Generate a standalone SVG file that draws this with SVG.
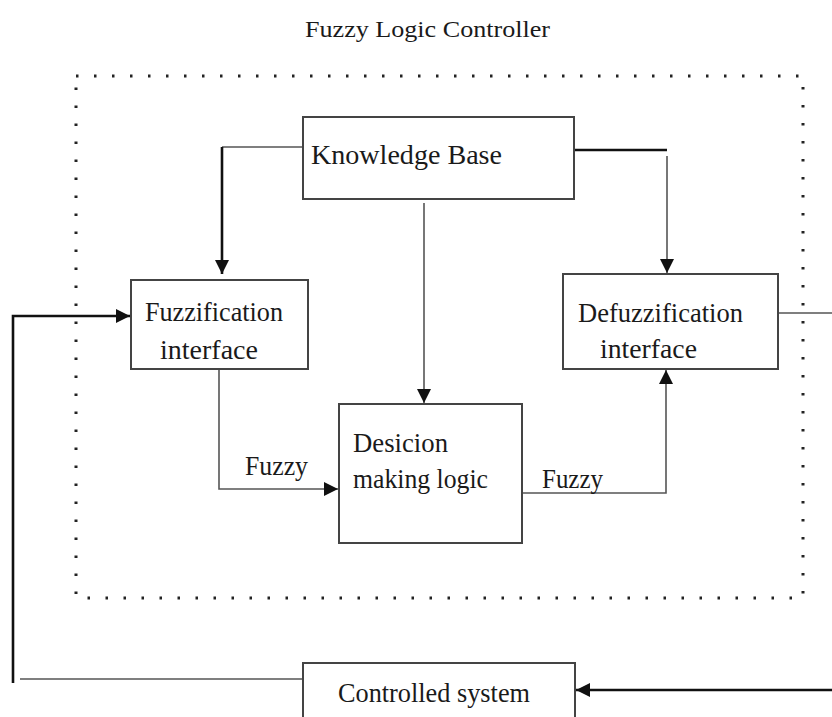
<svg xmlns="http://www.w3.org/2000/svg" width="832" height="717" viewBox="0 0 832 717">
<defs>
<style>
.t{font-family:"Liberation Serif","Times New Roman",serif;fill:#1a1a1a;font-size:28px;}
.box{fill:#fff;stroke:#444;stroke-width:2;}
.ln{fill:none;stroke:#555;stroke-width:1.6;}
.lk{fill:none;stroke:#111;stroke-width:2.6;}
.frame{fill:none;stroke:#222;stroke-width:3;stroke-dasharray:2.5 15.5;}
</style>
<marker id="ah" viewBox="0 0 10 10" refX="10" refY="5" markerWidth="14" markerHeight="14" markerUnits="userSpaceOnUse" orient="auto">
<path d="M0,0 L10,5 L0,10 Z" fill="#111"/>
</marker>
</defs>
<rect width="832" height="717" fill="#fff"/>
<text class="t" x="305" y="37" style="font-size:24px" textLength="245" lengthAdjust="spacingAndGlyphs">Fuzzy Logic Controller</text>
<rect class="frame" x="76" y="76" width="727" height="522"/>
<g id="connectors">
<polyline class="ln" points="303,147 222,147"/>
<polyline class="lk" points="222,147 222,274" marker-end="url(#ah)"/>
<polyline class="ln" points="424,203 424,403" marker-end="url(#ah)"/>
<polyline class="lk" points="574,150 667,150"/>
<polyline class="ln" points="667,156 667,273" marker-end="url(#ah)"/>
<polyline class="ln" points="219,369 219,489 338,489" marker-end="url(#ah)"/>
<polyline class="ln" points="522,493 666,493 666,370" marker-end="url(#ah)"/>
<polyline class="ln" points="778,313 832,313"/>
<polyline class="lk" points="832,690 576,690" marker-end="url(#ah)"/>
<polyline class="ln" points="302,679 20,679"/>
<polyline class="lk" points="13,683 13,316 130,316" marker-end="url(#ah)"/>
</g>
<g id="knowledge-base">
<rect class="box" x="303" y="117" width="271" height="82"/>
<text class="t" x="311" y="164" textLength="191" lengthAdjust="spacingAndGlyphs">Knowledge Base</text>
</g>
<g id="fuzzification">
<rect class="box" x="131" y="280" width="177" height="89"/>
<text class="t" x="145" y="321" textLength="138" lengthAdjust="spacingAndGlyphs">Fuzzification</text>
<text class="t" x="160" y="359" textLength="98" lengthAdjust="spacingAndGlyphs">interface</text>
</g>
<g id="defuzzification">
<rect class="box" x="563" y="274" width="215" height="95"/>
<text class="t" x="578" y="322" textLength="165" lengthAdjust="spacingAndGlyphs">Defuzzification</text>
<text class="t" x="600" y="358" textLength="97" lengthAdjust="spacingAndGlyphs">interface</text>
</g>
<g id="decision">
<rect class="box" x="339" y="404" width="183" height="139"/>
<text class="t" x="353" y="452" textLength="95" lengthAdjust="spacingAndGlyphs">Desicion</text>
<text class="t" x="353" y="488" textLength="135" lengthAdjust="spacingAndGlyphs">making logic</text>
</g>
<g id="labels">
<text class="t" x="245" y="475" textLength="63" lengthAdjust="spacingAndGlyphs">Fuzzy</text>
<text class="t" x="542" y="488" textLength="61" lengthAdjust="spacingAndGlyphs">Fuzzy</text>
</g>
<g id="controlled-system">
<rect class="box" x="303" y="663" width="272" height="64"/>
<text class="t" x="338" y="702" textLength="192" lengthAdjust="spacingAndGlyphs">Controlled system</text>
</g>
</svg>
